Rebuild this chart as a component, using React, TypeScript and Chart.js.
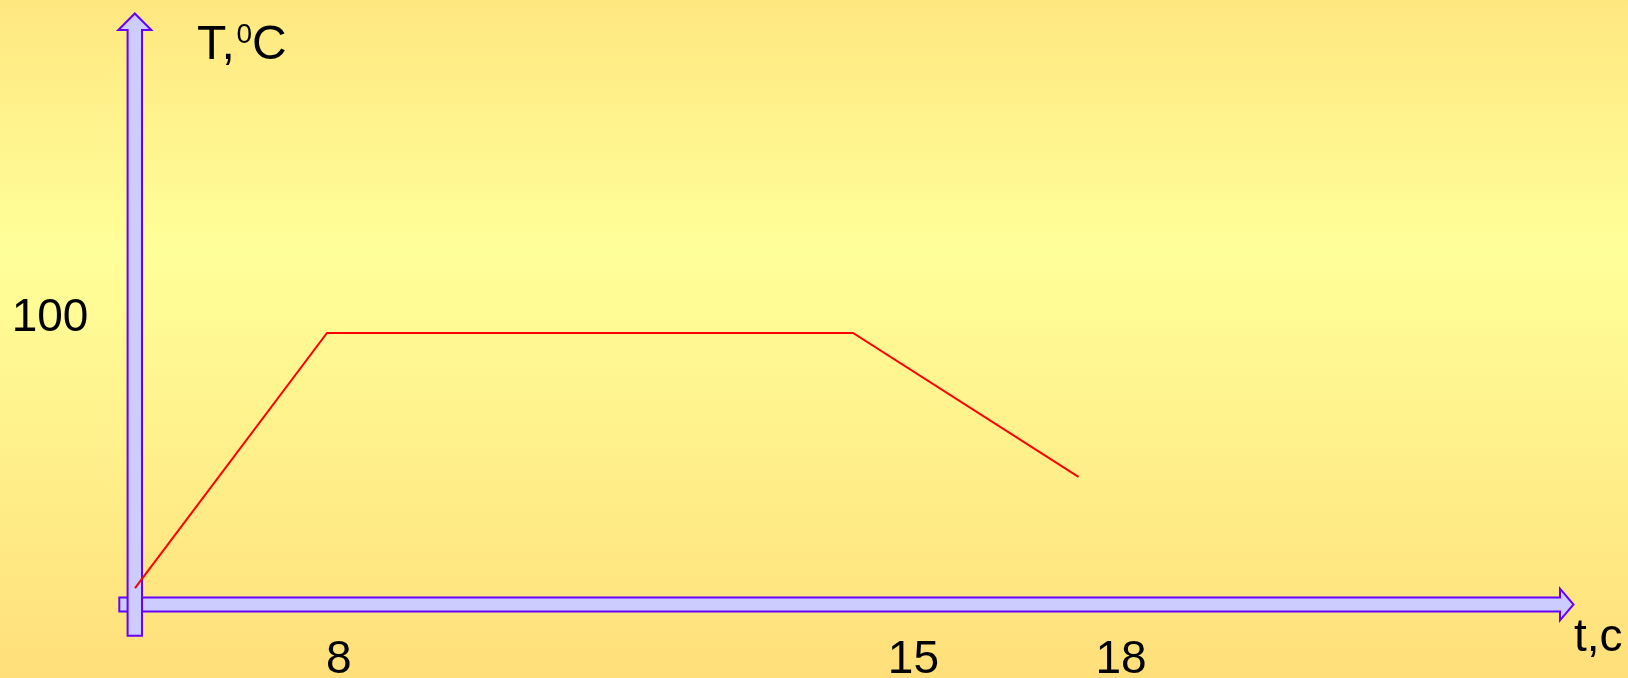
import React, { useEffect, useRef } from 'react';
import { Chart, registerables, LinearScale } from 'chart.js';

// ---------------- data ----------------
const TIME = [0, 8, 15, 18];
const TEMP = [6, 100, 100, 47];
const X_TICKS = [8, 15, 18];
const Y_TICKS = [100];
const X_TITLE = 't,c';
const Y_TITLE_T = 'T';
const Y_TITLE_COMMA = ',';
const Y_TITLE_SUP = '0';
const Y_TITLE_END = 'C';

// ---------------- layout / style ----------------
const W = 1628;
const H = 678;
const X_MIN = 0;
const X_MAX = 18;
const Y_MIN = 0;
const Y_MAX = 100;
// schematic (non-uniform) time axis: the first segment is compressed
const X_BREAK_VALUES = [0, 8, 18];
const X_BREAK_FRACS = [0, 0.2035, 1];
const PAD = { left: 135, right: 549.5, top: 333, bottom: 73.5 };
const FONT = '"Liberation Sans", Arial, Helvetica, sans-serif';
const FONT_SIZE = 46;
const TITLE_SIZE = 48;
const SUP_SIZE = 28;
const ARROW_FILL = '#CCCCFF';
const ARROW_STROKE = '#6600FF';
const LINE_COLOR = '#FF0000';
const X_LABEL_NUDGE = [11.8, 60.4, 42.5];

function toFrac(v: number): number {
  const vs = X_BREAK_VALUES;
  const fs = X_BREAK_FRACS;
  let i = 0;
  while (i < vs.length - 2 && v > vs[i + 1]) i++;
  return fs[i] + ((v - vs[i]) / (vs[i + 1] - vs[i])) * (fs[i + 1] - fs[i]);
}
function fromFrac(f: number): number {
  const vs = X_BREAK_VALUES;
  const fs = X_BREAK_FRACS;
  let i = 0;
  while (i < fs.length - 2 && f > fs[i + 1]) i++;
  return vs[i] + ((f - fs[i]) / (fs[i + 1] - fs[i])) * (vs[i + 1] - vs[i]);
}

class PiecewiseScale extends (LinearScale as any) {
  static id = 'piecewise';
  static defaults = (LinearScale as any).defaults;
  getPixelForValue(value: any) {
    if (value === null || value === undefined || isNaN(value)) return NaN;
    return (this as any).getPixelForDecimal(toFrac(value));
  }
  getValueForPixel(pixel: number) {
    return fromFrac((this as any).getDecimalForPixel(pixel));
  }
}

Chart.register(...registerables, PiecewiseScale as any);

function hArrow(ctx: CanvasRenderingContext2D, left: number, tip: number, cy: number, h: number, headBase: number, hh: number) {
  ctx.beginPath();
  ctx.moveTo(left, cy - h);
  ctx.lineTo(headBase, cy - h);
  ctx.lineTo(headBase, cy - hh);
  ctx.lineTo(tip, cy);
  ctx.lineTo(headBase, cy + hh);
  ctx.lineTo(headBase, cy + h);
  ctx.lineTo(left, cy + h);
  ctx.closePath();
  ctx.fill();
  ctx.stroke();
}
function vArrow(ctx: CanvasRenderingContext2D, bottom: number, tip: number, cx: number, h: number, headBase: number, hh: number) {
  ctx.beginPath();
  ctx.moveTo(cx - h, bottom);
  ctx.lineTo(cx - h, headBase);
  ctx.lineTo(cx - hh, headBase);
  ctx.lineTo(cx, tip);
  ctx.lineTo(cx + hh, headBase);
  ctx.lineTo(cx + h, headBase);
  ctx.lineTo(cx + h, bottom);
  ctx.closePath();
  ctx.fill();
  ctx.stroke();
}

const decor = {
  id: 'decor',
  beforeDraw(chart: any) {
    const ctx = chart.ctx as CanvasRenderingContext2D;
    const g = ctx.createLinearGradient(0, 0, 0, H);
    g.addColorStop(0, '#FFE780');
    g.addColorStop(0.37, '#FFFF99');
    g.addColorStop(1, '#FFDF7A');
    ctx.save();
    ctx.fillStyle = g;
    ctx.fillRect(0, 0, W, H);
    ctx.restore();
  },
  beforeDatasetsDraw(chart: any) {
    const ctx = chart.ctx as CanvasRenderingContext2D;
    const xs = chart.scales.x;
    const ys = chart.scales.y;
    const x0 = xs.getPixelForValue(X_MIN);
    const y0 = ys.getPixelForValue(Y_MIN);
    ctx.save();
    ctx.fillStyle = ARROW_FILL;
    ctx.strokeStyle = ARROW_STROKE;
    ctx.lineWidth = 2;
    ctx.lineJoin = 'miter';
    // horizontal (time) axis arrow
    hArrow(ctx, x0 - 15.7, 1573.5, y0, 7, 1560, 15.8);
    // vertical (temperature) axis arrow
    vArrow(ctx, y0 + 31.2, 13.5, x0 - 0.2, 7.2, 30, 16.5);
    ctx.restore();
  },
  afterDraw(chart: any) {
    const ctx = chart.ctx as CanvasRenderingContext2D;
    const xs = chart.scales.x;
    const ys = chart.scales.y;
    ctx.save();
    ctx.fillStyle = '#000000';
    ctx.textBaseline = 'alphabetic';
    ctx.font = `${FONT_SIZE}px ${FONT}`;
    // x tick labels
    ctx.textAlign = 'center';
    X_TICKS.forEach((v, i) => {
      ctx.fillText(String(v), xs.getPixelForValue(v) + X_LABEL_NUDGE[i], 673);
    });
    // y tick labels
    ctx.textAlign = 'left';
    Y_TICKS.forEach((v) => {
      ctx.fillText(String(v), 11.7, ys.getPixelForValue(v) - 2.3);
    });
    // x title
    ctx.fillText(X_TITLE, 1574, 651);
    // y title "T,⁰C"
    ctx.font = `${TITLE_SIZE}px ${FONT}`;
    ctx.fillText(Y_TITLE_T, 197, 58.5);
    ctx.fillText(Y_TITLE_COMMA, 221.5, 58.5);
    ctx.fillText(Y_TITLE_END, 251.9, 58.5);
    ctx.font = `${SUP_SIZE}px ${FONT}`;
    ctx.fillText(Y_TITLE_SUP, 236.4, 43.3);
    ctx.restore();
  },
};

export default function App() {
  const ref = useRef<HTMLCanvasElement | null>(null);
  useEffect(() => {
    if (!ref.current) return;
    const chart = new Chart(ref.current, {
      type: 'line',
      data: {
        datasets: [
          {
            data: TIME.map((t, i) => ({ x: t, y: TEMP[i] })),
            borderColor: LINE_COLOR,
            borderWidth: 2,
            pointRadius: 0,
            tension: 0,
            fill: false,
            clip: false as any,
          },
        ],
      },
      options: {
        animation: false,
        responsive: false,
        devicePixelRatio: 1,
        events: [],
        layout: { padding: PAD },
        plugins: { legend: { display: false }, tooltip: { enabled: false } },
        scales: {
          x: { type: 'piecewise' as any, min: X_MIN, max: X_MAX, display: false },
          y: { type: 'linear', min: Y_MIN, max: Y_MAX, display: false },
        },
      } as any,
      plugins: [decor],
    });
    return () => chart.destroy();
  }, []);
  return (
    <div style={{ position: 'absolute', left: 0, top: 0, width: W, height: H }}>
      <canvas ref={ref} width={W} height={H} style={{ display: 'block', width: W, height: H }} />
    </div>
  );
}
